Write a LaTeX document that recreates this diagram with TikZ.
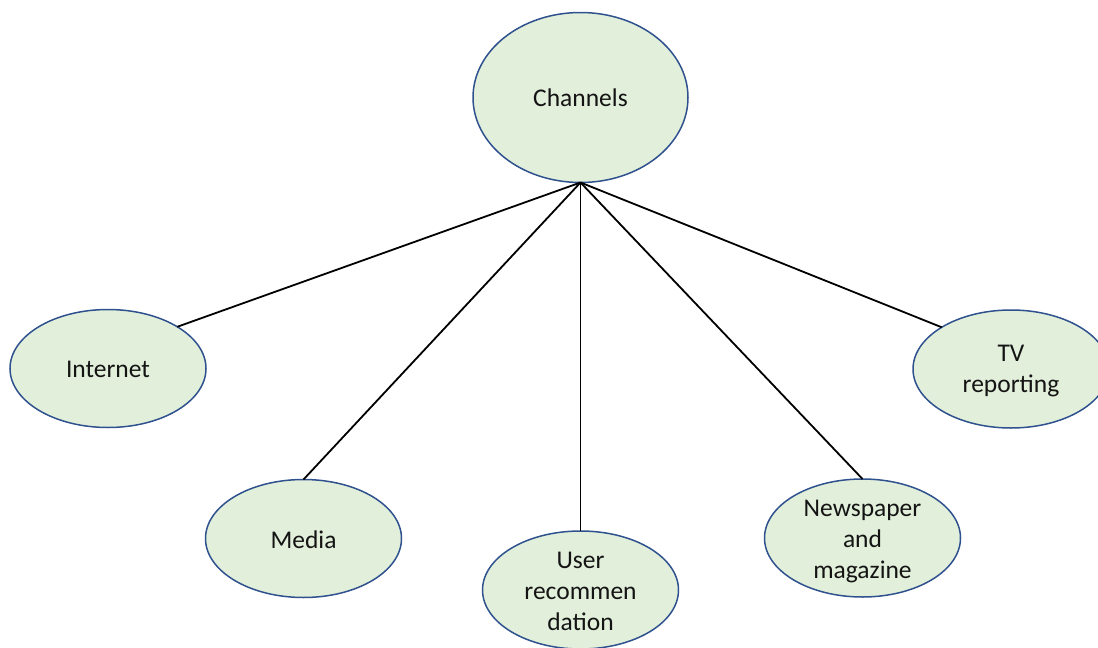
\documentclass[tikz,border=0pt]{standalone}
\usepackage{fontspec}
\setmainfont{Carlito}
\usetikzlibrary{shapes.geometric}
\definecolor{bubblefill}{HTML}{E2EFDA}
\definecolor{bubbleline}{HTML}{2F528F}
\definecolor{inktext}{HTML}{141414}
\tikzset{
  bubble/.style={ellipse, draw=bubbleline, line width=1.5pt, fill=bubblefill,
    inner sep=0pt, outer sep=0pt, minimum width=196pt, minimum height=118pt},
  bubbletext/.style={align=center, text=inktext,
    font=\fontsize{25.5}{31}\selectfont},
  link/.style={draw=black, line width=1.8pt}
}
\begin{document}
\begin{tikzpicture}[x=1pt,y=-1pt]
  \useasboundingbox (0,0) rectangle (1098,648);
  % hub and its five channels
  \node[bubble, minimum width=215pt, minimum height=170pt] (hub) at (580.5,97.5) {};
  \node[bubble] (internet) at (108,368.5) {};
  \node[bubble] (media) at (303.5,538.5) {};
  \node[bubble] (user) at (580.5,590) {};
  \node[bubble] (paper) at (862.5,538) {};
  \node[bubble] (tv) at (1011,369) {};
  % connectors from the bottom of the hub
  \draw[link] (hub.south) -- (internet.north east);
  \draw[link] (hub.south) -- (media.north);
  \draw[link] (hub.south) -- (user.north);
  \draw[link] (hub.south) -- (paper.north);
  \draw[link] (hub.south) -- (tv.north west);
  % labels
  \node[bubbletext] (hubtext) at (hub.center) {Channels};
  \node[bubbletext] (internettext) at ([yshift=-1pt]internet.center) {Internet};
  \node[bubbletext] (mediatext) at ([yshift=-1pt]media.center) {Media};
  \node[bubbletext] (usertext) at ([yshift=-1pt]user.center) {User\\recommen\\dation};
  \node[bubbletext] (papertext) at ([yshift=-4pt]paper.center) {Newspaper\\and\\magazine};
  \node[bubbletext] (tvtext) at ([yshift=-2pt]tv.center) {TV\\reporting};
\end{tikzpicture}
\end{document}
